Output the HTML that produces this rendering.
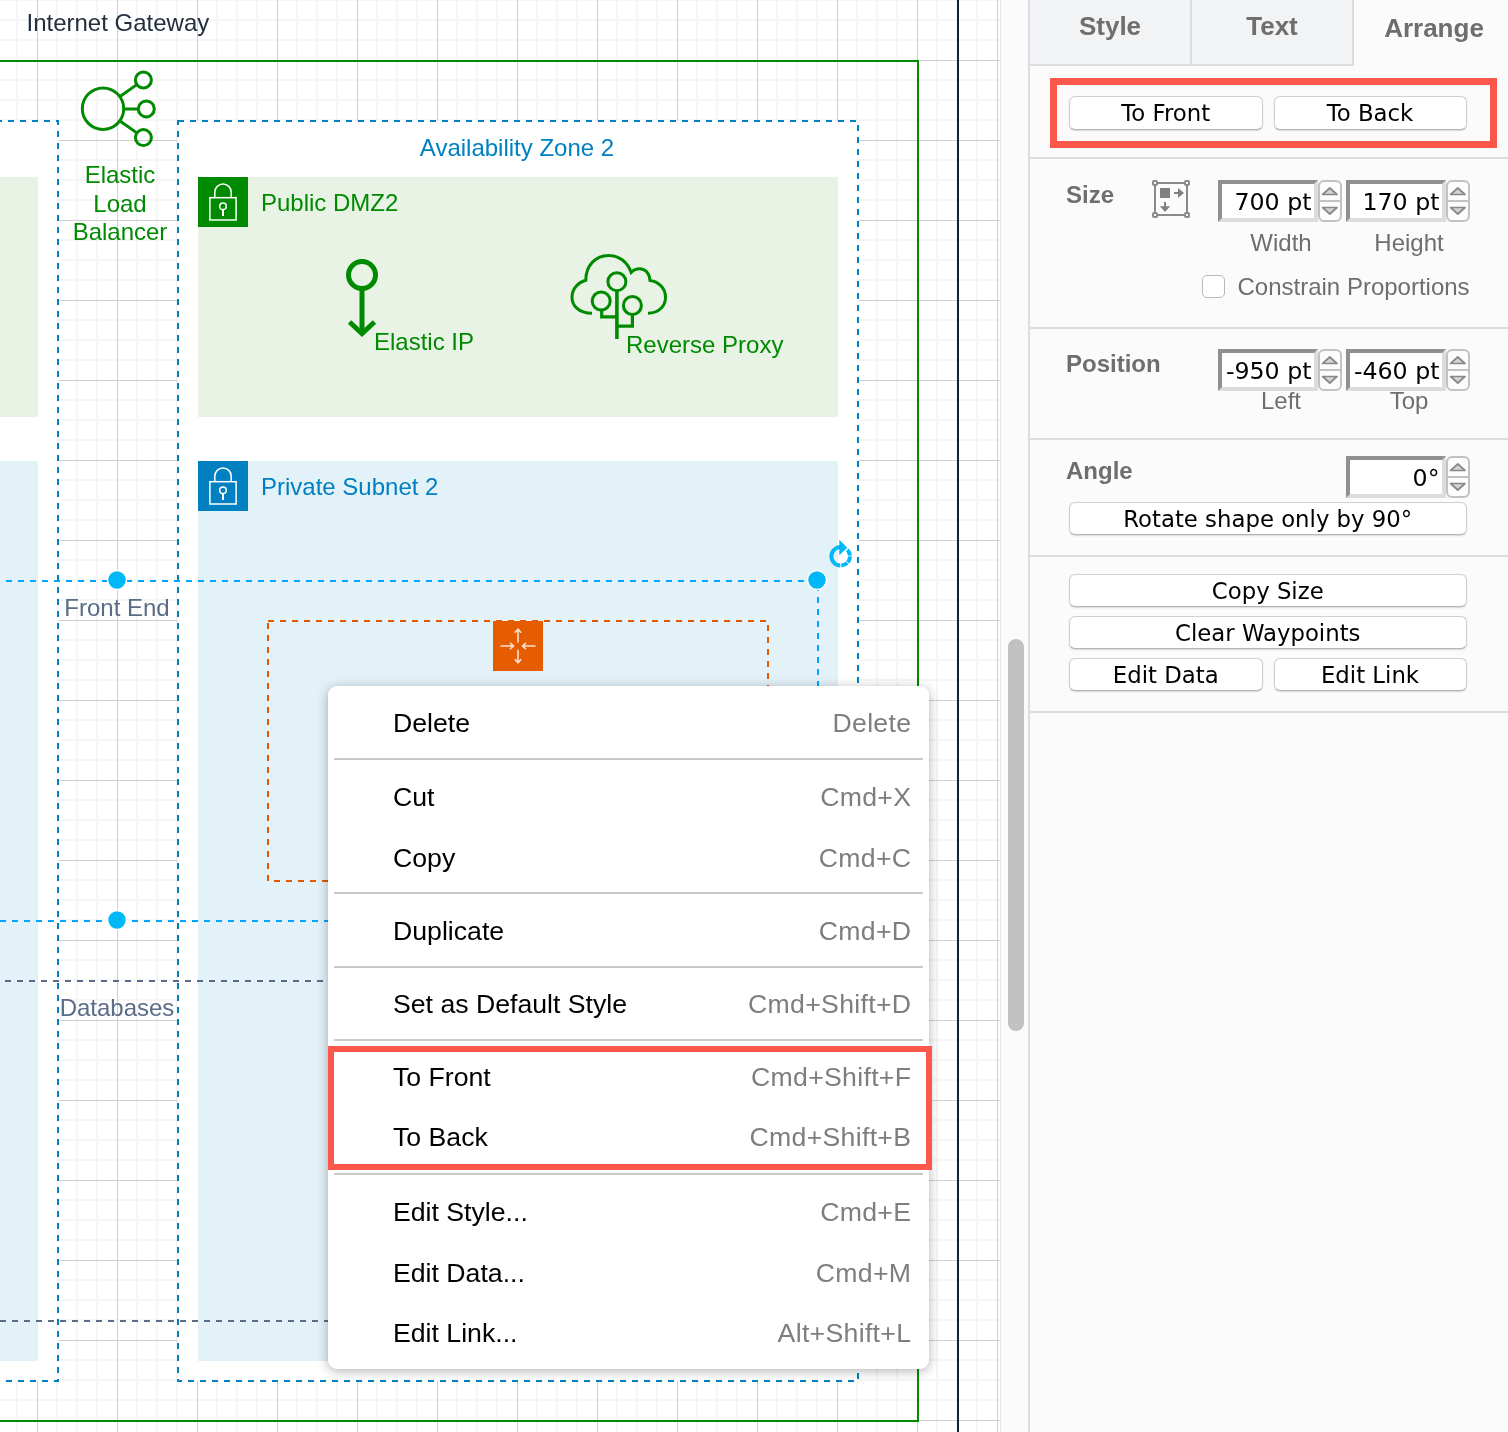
<!DOCTYPE html>
<html><head><meta charset="utf-8"><title>Arrange</title>
<style>
html,body{margin:0;padding:0;}
#root{position:absolute;left:0;top:0;width:1508px;height:1432px;will-change:transform;}
body{width:1508px;height:1432px;overflow:hidden;position:relative;background:#fff;font-family:"Liberation Sans",Helvetica,Arial,sans-serif;}
#canvas{position:absolute;left:0;top:0;width:1000px;height:1432px;overflow:hidden;}
#canvas svg{position:absolute;left:0;top:0;}
#vscroll{position:absolute;left:1000px;top:0;width:28px;height:1432px;background:#fafafa;border-left:1px solid #e8e8e8;box-sizing:border-box;}
#thumb{position:absolute;left:1008px;top:639px;width:16px;height:392px;border-radius:8px;background:#c1c1c1;}
#panel{position:absolute;left:1028px;top:0;width:480px;height:1432px;background:#fbfbfb;border-left:2px solid #dcdde3;box-sizing:border-box;color:#6e6e6e;font-size:24px;}
#panel *{box-sizing:border-box;}
.abs{position:absolute;}
.tab{position:absolute;top:0;height:66px;background:#f2f3f5;border-bottom:2px solid #dcdde3;border-right:2px solid #dcdde3;font-weight:bold;font-size:26px;line-height:30px;text-align:center;padding-top:11px;color:#6e6e6e;}
.tab.act{background:none;border:none;padding-top:13px;padding-left:6px;}
.hr{position:absolute;left:0;width:478px;height:2px;background:#dcdde3;}
.btn{position:absolute;height:33px;border:1px solid #cfcfcf;border-bottom-color:#b4b4b4;border-radius:6px;background:#fff;color:#000;font-family:"DejaVu Sans","Liberation Sans",sans-serif;font-size:22.8px;line-height:32.2px;text-align:center;box-shadow:0 1px 1.5px rgba(0,0,0,.14);white-space:nowrap;}
.lbl{position:absolute;font-weight:bold;font-size:24px;line-height:28px;color:#6e6e6e;white-space:nowrap;}
.sub{position:absolute;font-size:24px;line-height:28px;color:#6e6e6e;text-align:center;white-space:nowrap;}
.inp{position:absolute;width:100px;height:42px;border:4px solid;border-color:#909090 #dcdcdc #dcdcdc #909090;background:#fff;color:#000;font-family:"DejaVu Sans","Liberation Sans",sans-serif;font-size:23.7px;line-height:28px;padding-top:3.6px;text-align:right;padding-right:2.5px;white-space:nowrap;overflow:hidden;}
.spin{position:absolute;width:24px;height:42px;}
.red{position:absolute;border:7px solid #fb584b;box-sizing:border-box;}
#menu{position:absolute;left:328px;top:686px;width:601px;height:683px;background:#fff;border-radius:9px;box-shadow:0 2px 12px rgba(0,0,0,.3);font-size:26.67px;color:#000;}
#menu .it{position:absolute;left:65px;line-height:30px;white-space:nowrap;}
#menu .sc{position:absolute;right:17.7px;letter-spacing:.3px;line-height:30px;color:#7e7e7e;white-space:nowrap;}
#menu .sep{position:absolute;left:6px;width:589px;height:2px;background:#c9c9c9;}

</style></head><body><div id="root">
<div id="canvas">
<svg width="1000" height="1432" viewBox="0 0 1000 1432" font-family="Liberation Sans, Helvetica, Arial, sans-serif" font-size="24">
<defs>
<pattern id="grid" x="0" y="0" width="80" height="80" patternUnits="userSpaceOnUse">
<path d="M17 0V80M57 0V80M77 0V80M0 0H80M0 20H80M0 40H80" stroke="#f6f6f6" stroke-width="2" fill="none"/>
<path d="M0 80H80" stroke="#f6f6f6" stroke-width="2" fill="none"/>
<rect x="37" y="0" width="1" height="80" fill="#d0d0d0"/><rect x="0" y="60" width="80" height="1" fill="#d0d0d0"/>
</pattern>
</defs>
<rect x="0" y="0" width="1000" height="1432" fill="#fff"/>
<rect x="0" y="0" width="1000" height="1432" fill="url(#grid)"/>
<rect x="957" y="0" width="2" height="1432" fill="#13223a"/>
<path d="M-10 61H918V1421H-10" fill="none" stroke="#008a00" stroke-width="2"/>
<rect x="-300" y="121" width="358" height="1260" fill="#fff" stroke="#0080c0" stroke-width="2" stroke-dasharray="6 6" stroke-dashoffset="4"/>
<rect x="178" y="121" width="680" height="1260" fill="#fff" stroke="#0080c0" stroke-width="2" stroke-dasharray="6 6"/>
<rect x="-10" y="177" width="48" height="240" fill="#e8f3e6"/>
<rect x="198" y="177" width="640" height="240" fill="#e8f3e6"/>
<rect x="-10" y="461" width="48" height="900" fill="#e3f1f9"/>
<rect x="198" y="461" width="640" height="900" fill="#e3f1f9"/>
<g transform="translate(198 177)"><rect width="50" height="50" fill="#008a00"/>
<g fill="none" stroke="#fff" stroke-width="1.5"><rect x="11.9" y="20.7" width="26.2" height="22.3"/><path d="M16.8 20.7V15.2A8.2 8.2 0 0 1 33.2 15.2V20.7"/><circle cx="25" cy="29.3" r="3.3"/><path d="M25 32.6V39" stroke-width="2"/></g></g>
<g transform="translate(198 461)"><rect width="50" height="50" fill="#0080c0"/>
<g fill="none" stroke="#fff" stroke-width="1.5"><rect x="11.9" y="20.7" width="26.2" height="22.3"/><path d="M16.8 20.7V15.2A8.2 8.2 0 0 1 33.2 15.2V20.7"/><circle cx="25" cy="29.3" r="3.3"/><path d="M25 32.6V39" stroke-width="2"/></g></g>
<text x="26.5" y="31" fill="#232f3e">Internet Gateway</text>
<text x="517" y="156" fill="#0080c0" text-anchor="middle">Availability Zone 2</text>
<text x="261" y="211" fill="#008a00">Public DMZ2</text>
<text x="261" y="495" fill="#0080c0">Private Subnet 2</text>
<g fill="none" stroke="#008a00" stroke-width="3"><circle cx="103" cy="108.7" r="20.7"/><circle cx="143.4" cy="80" r="8"/><circle cx="146.3" cy="108.9" r="8"/><circle cx="143.4" cy="137.6" r="8"/>
<path d="M120 96.5L136.8 84.6M123.7 108.9H138.3M120 121L136.8 132.9"/></g>
<g fill="#008a00" text-anchor="middle"><text x="120" y="183">Elastic</text><text x="120" y="211.5">Load</text><text x="120" y="240">Balancer</text></g>
<g fill="none" stroke="#008a00" stroke-width="5"><circle cx="362" cy="275" r="13.5"/><path d="M362 288.5V333"/><path d="M349.5 322L362 333.5L374.5 322" stroke-linejoin="miter"/></g>
<text x="374" y="350" fill="#008a00">Elastic IP</text>
<g fill="none" stroke="#008a00" stroke-width="3">
<path d="M592 313.2C578 313.2 572 305 572 297.2C572 288 579 282 585.8 280.3C585.8 265 596 255.5 608.6 255.5C619 255.5 627.5 262 631.2 272.5C634 269.5 637 268.8 639.7 268.8C645 268.8 649.5 273 650 280.5C658 281.5 665.5 287.5 665.5 297.2C665.5 306 659 313.2 648 313.2"/>
<circle cx="616.9" cy="281.7" r="9"/><circle cx="601.2" cy="301" r="9"/><circle cx="632.4" cy="305.5" r="9"/>
<path d="M616.9 290.7V339" stroke-width="3.6"/><path d="M601.7 310V316.8H616.9M632.4 314.5V326.2H616.9" stroke-width="3.2"/></g>
<text x="626" y="353" fill="#008a00">Reverse Proxy</text>
<rect x="268" y="621" width="500" height="260" fill="none" stroke="#e05a00" stroke-width="2" stroke-dasharray="6 6"/>
<g transform="translate(493 621)"><rect width="50" height="50" fill="#e65c00"/>
<g fill="none" stroke="#f9e0d0" stroke-width="1.6"><path d="M25 8.2V21.4M21.8 11.7L25 8.2L28.2 11.7"/><path d="M25 41.8V28.8M21.8 38.3L25 41.8L28.2 38.3"/><path d="M7.5 25H20.5M17 21.8L20.5 25L17 28.2"/><path d="M42.5 25H29.5M33 21.8L29.5 25L33 28.2"/></g></g>
<path d="M5 981H400M0 1321H400" fill="none" stroke="#5a6c86" stroke-width="2" stroke-dasharray="6 6"/>
<text x="117" y="1016" fill="#5a6c86" text-anchor="middle">Databases</text>
<text x="117" y="616" fill="#5a6c86" text-anchor="middle">Front End</text>
<path d="M6 581H818V700M0 921H400" fill="none" stroke="#00a5ff" stroke-width="2" stroke-dasharray="6 6"/>
<circle cx="117" cy="580" r="9.5" fill="#00b8f8" stroke="#fff" stroke-width="1.5"/>
<circle cx="817" cy="580" r="9.5" fill="#00b8f8" stroke="#fff" stroke-width="1.5"/>
<circle cx="117" cy="920" r="9.5" fill="#00b8f8" stroke="#fff" stroke-width="1.5"/>
<g transform="translate(840.8 556.3)" fill="none" stroke="#00b8f8" stroke-width="4"><path d="M-0.5 9.2A9.2 9.2 0 0 1 0 -9.2"/><path d="M6.5 -6.5A9.2 9.2 0 0 1 0 9.2" stroke-dasharray="6.4 0.8"/><path d="M-1.5 -16.5L6.5 -8.5L-1.5 -1Z" fill="#00b8f8" stroke="none"/></g>
</svg>
</div>
<div id="vscroll"></div><div id="thumb"></div>
<div id="panel">
<div class="tab" style="left:0px;width:162px;">Style</div>
<div class="tab" style="left:162px;width:162px;">Text</div>
<div class="tab act" style="left:324px;width:154px;">Arrange</div>
<div class="red" style="left:20px;top:77.5px;width:446.5px;height:70.5px;"></div>
<div class="btn" style="left:39px;top:96px;width:193.5px;height:33.5px;">To Front</div>
<div class="btn" style="left:243.5px;top:96px;width:193.0px;height:33.5px;">To Back</div>
<div class="hr" style="top:157px;"></div>
<div class="lbl" style="left:36px;top:181px;">Size</div>
<svg class="abs" style="left:120px;top:178px;" width="42" height="42" viewBox="1150 178 42 42"><g fill="none" stroke="#8a8a8a" stroke-width="2"><rect x="1155" y="183" width="32" height="32"/></g>
<g fill="#fbfbfb" stroke="#8a8a8a" stroke-width="2"><rect x="1153" y="181" width="4" height="4" rx="1"/><rect x="1185" y="181" width="4" height="4" rx="1"/><rect x="1153" y="213" width="4" height="4" rx="1"/><rect x="1185" y="213" width="4" height="4" rx="1"/></g>
<g fill="#808080"><rect x="1160" y="188" width="10" height="10"/><path d="M1174 192H1178V188L1184 193L1178 198V194H1174Z"/><path d="M1164 202H1166V206.3H1170.2L1165 212L1159.8 206.3H1164Z"/></g></svg>
<div class="inp" style="left:188px;top:180px;">700 pt</div>
<svg class="spin" style="left:288px;top:180px;" width="24" height="42" viewBox="0 0 24 42"><rect x="1" y="1" width="22" height="40" rx="5" fill="#fcfcfc" stroke="#c2c2c2" stroke-width="2"/><path d="M1 21H23" stroke="#c2c2c2" stroke-width="2"/><path d="M11.8 8L19 14.5H4.6Z M11.8 34L19 27.5H4.6Z" fill="#d4d4d4" stroke="#888" stroke-width="1.7" stroke-linejoin="round"/></svg>
<div class="inp" style="left:316px;top:180px;">170 pt</div>
<svg class="spin" style="left:416px;top:180px;" width="24" height="42" viewBox="0 0 24 42"><rect x="1" y="1" width="22" height="40" rx="5" fill="#fcfcfc" stroke="#c2c2c2" stroke-width="2"/><path d="M1 21H23" stroke="#c2c2c2" stroke-width="2"/><path d="M11.8 8L19 14.5H4.6Z M11.8 34L19 27.5H4.6Z" fill="#d4d4d4" stroke="#888" stroke-width="1.7" stroke-linejoin="round"/></svg>
<div class="sub" style="left:188px;top:229px;width:126px;">Width</div>
<div class="sub" style="left:316px;top:229px;width:126px;">Height</div>
<div class="abs" style="left:171.5px;top:274.5px;width:23.5px;height:23.5px;border:1.5px solid #b9b9b9;border-radius:5px;background:#fff;"></div>
<div class="sub" style="left:207.5px;top:272.5px;text-align:left;">Constrain Proportions</div>
<div class="hr" style="top:327px;"></div>
<div class="lbl" style="left:36px;top:350px;">Position</div>
<div class="inp" style="left:188px;top:349px;">-950 pt</div>
<svg class="spin" style="left:288px;top:349px;" width="24" height="42" viewBox="0 0 24 42"><rect x="1" y="1" width="22" height="40" rx="5" fill="#fcfcfc" stroke="#c2c2c2" stroke-width="2"/><path d="M1 21H23" stroke="#c2c2c2" stroke-width="2"/><path d="M11.8 8L19 14.5H4.6Z M11.8 34L19 27.5H4.6Z" fill="#d4d4d4" stroke="#888" stroke-width="1.7" stroke-linejoin="round"/></svg>
<div class="inp" style="left:316px;top:349px;">-460 pt</div>
<svg class="spin" style="left:416px;top:349px;" width="24" height="42" viewBox="0 0 24 42"><rect x="1" y="1" width="22" height="40" rx="5" fill="#fcfcfc" stroke="#c2c2c2" stroke-width="2"/><path d="M1 21H23" stroke="#c2c2c2" stroke-width="2"/><path d="M11.8 8L19 14.5H4.6Z M11.8 34L19 27.5H4.6Z" fill="#d4d4d4" stroke="#888" stroke-width="1.7" stroke-linejoin="round"/></svg>
<div class="sub" style="left:188px;top:386.5px;width:126px;">Left</div>
<div class="sub" style="left:316px;top:386.5px;width:126px;">Top</div>
<div class="hr" style="top:438px;"></div>
<div class="lbl" style="left:36px;top:456.5px;">Angle</div>
<div class="inp" style="left:316px;top:456px;">0°</div>
<svg class="spin" style="left:416px;top:456px;" width="24" height="42" viewBox="0 0 24 42"><rect x="1" y="1" width="22" height="40" rx="5" fill="#fcfcfc" stroke="#c2c2c2" stroke-width="2"/><path d="M1 21H23" stroke="#c2c2c2" stroke-width="2"/><path d="M11.8 8L19 14.5H4.6Z M11.8 34L19 27.5H4.6Z" fill="#d4d4d4" stroke="#888" stroke-width="1.7" stroke-linejoin="round"/></svg>
<div class="btn" style="left:39px;top:501.5px;width:397.5px;height:33px;">Rotate shape only by 90°</div>
<div class="hr" style="top:555px;"></div>
<div class="btn" style="left:39px;top:574px;width:397.5px;height:33px;">Copy Size</div>
<div class="btn" style="left:39px;top:616px;width:397.5px;height:33px;">Clear Waypoints</div>
<div class="btn" style="left:39px;top:658px;width:193.5px;height:33px;">Edit Data</div>
<div class="btn" style="left:243.5px;top:658px;width:193.0px;height:33px;">Edit Link</div>
<div class="hr" style="top:711px;"></div>
</div>
<div id="menu">
<div class="it" style="top:21.8px;">Delete</div><div class="sc" style="top:21.8px;">Delete</div>
<div class="it" style="top:95.8px;">Cut</div><div class="sc" style="top:95.8px;">Cmd+X</div>
<div class="it" style="top:156.8px;">Copy</div><div class="sc" style="top:156.8px;">Cmd+C</div>
<div class="it" style="top:229.8px;">Duplicate</div><div class="sc" style="top:229.8px;">Cmd+D</div>
<div class="it" style="top:303.0px;">Set as Default Style</div><div class="sc" style="top:303.0px;">Cmd+Shift+D</div>
<div class="it" style="top:376.4px;">To Front</div><div class="sc" style="top:376.4px;">Cmd+Shift+F</div>
<div class="it" style="top:436.2px;">To Back</div><div class="sc" style="top:436.2px;">Cmd+Shift+B</div>
<div class="it" style="top:511.0px;">Edit Style...</div><div class="sc" style="top:511.0px;">Cmd+E</div>
<div class="it" style="top:571.7px;">Edit Data...</div><div class="sc" style="top:571.7px;">Cmd+M</div>
<div class="it" style="top:631.9px;">Edit Link...</div><div class="sc" style="top:631.9px;">Alt+Shift+L</div>
<div class="sep" style="top:72px;"></div>
<div class="sep" style="top:206px;"></div>
<div class="sep" style="top:280px;"></div>
<div class="sep" style="top:353px;"></div>
<div class="sep" style="top:487px;"></div>
</div>
<div class="red" style="left:328px;top:1046px;width:604px;height:124px;border-width:6.5px;"></div>
</div></body></html>
